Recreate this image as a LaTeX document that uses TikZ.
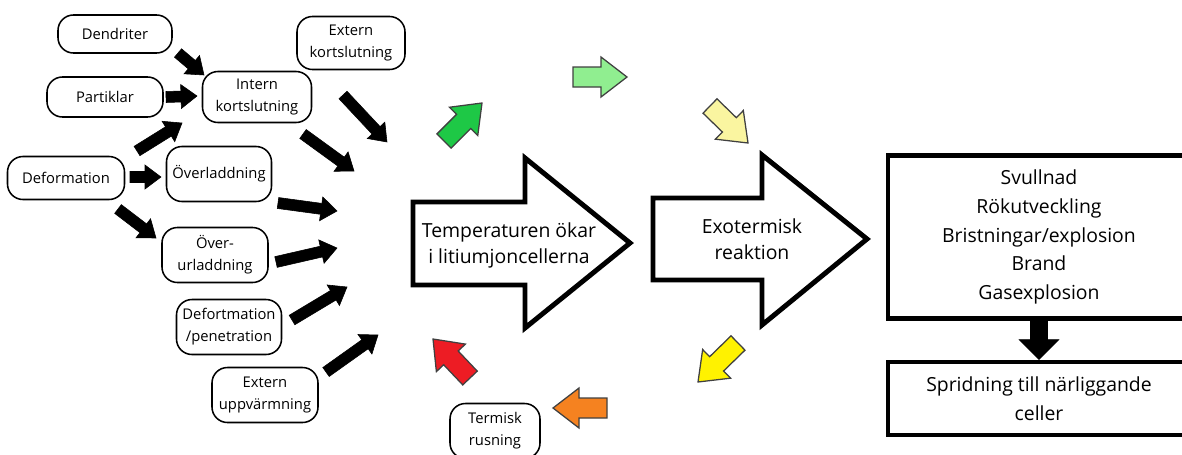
\documentclass[tikz,border=0pt]{standalone}
\usepackage{fontspec}
\setmainfont{Open Sans}
\usetikzlibrary{calc}

\definecolor{darkgreen}{RGB}{30,200,70}
\definecolor{lightgreen}{RGB}{144,238,144}
\definecolor{paleyellow}{RGB}{250,245,160}
\definecolor{brightyellow}{RGB}{255,242,0}
\definecolor{hotorange}{RGB}{245,130,32}
\definecolor{hotred}{RGB}{237,28,36}

\def\px{0.025cm}
% block arrow: style, start, end, half shaft, half head, head length
\newcommand{\fatarrow}[6]{%
  \coordinate (fa-base) at ($(#3)!#6*\px!(#2)$);
  \draw[#1] ($(#2)!#4*\px!90:(#3)$) -- ($(fa-base)!#4*\px!-90:(#2)$)
    -- ($(fa-base)!#5*\px!-90:(#2)$) -- (#3) -- ($(fa-base)!#5*\px!90:(#2)$)
    -- ($(fa-base)!#4*\px!90:(#2)$) -- ($(#2)!#4*\px!-90:(#3)$) -- cycle;
}
\newcommand{\blkarrow}[2]{\fatarrow{fill=black}{#1}{#2}{5.5}{12}{16}}
\newcommand{\colarrow}[3]{\fatarrow{fill=#1, draw=black!75, line width=0.9pt}{#2}{#3}{10}{20}{26}}

\begin{document}
\begin{tikzpicture}[
        x=0.025cm, y=-0.025cm,
        smallbox/.style={rectangle, rounded corners=11pt, draw=black, line width=1.1pt, fill=white, align=center, inner sep=1pt, font=\fontsize{10.5}{15.5}\selectfont},
        bigtext/.style={align=center, inner sep=0pt, font=\fontsize{13.8}{18.5}\selectfont},
        resbox/.style={rectangle, draw=black, line width=3.5pt, fill=white, align=center, minimum width=7.55cm, font=\fontsize{13.8}{20.5}\selectfont},
        bigarrow/.style={draw=black, line width=3.5pt, fill=white},
    ]
        \useasboundingbox (0,0) rectangle (1182,454);

        % Causes
        \node[smallbox, minimum width=114*\px, minimum height=38*\px] (dend) at (115,34) {Dendriter};
        \node[smallbox, minimum width=116*\px, minimum height=40*\px] (part) at (105,97) {Partiklar};
        \node[smallbox, minimum width=109*\px, minimum height=51*\px] (intk) at (257,97) {Intern\\kortslutning};
        \node[smallbox, minimum width=108*\px, minimum height=53*\px] (extk) at (351,43) {Extern\\kortslutning};
        \node[smallbox, minimum width=117*\px, minimum height=43*\px] (defo) at (66,178) {Deformation};
        \node[smallbox, minimum width=105*\px, minimum height=55*\px] (overl) at (219,174) {Överladdning};
        \node[smallbox, minimum width=106*\px, minimum height=55*\px] (overu) at (215,255) {Över-\\urladdning};
        \node[smallbox, minimum width=105*\px, minimum height=55*\px] (pene) at (229,327) {Defortmation\\/penetration};
        \node[smallbox, minimum width=106*\px, minimum height=55*\px] (extu) at (265,395) {Extern\\uppvärmning};
        \node[smallbox, minimum width=90*\px, minimum height=55*\px] (rus) at (495,431) {Termisk\\rusning};

        % Big arrows
        \draw[bigarrow] (413,202) -- (525,202) -- (525,158) -- (630,243) -- (525,328) -- (525,285) -- (413,285) -- cycle;
        \node[bigtext] (temp) at (509,245) {Temperaturen ökar\\i litiumjoncellerna};
        \draw[bigarrow] (653,198) -- (762,198) -- (762,155) -- (867,239) -- (762,325) -- (762,280) -- (653,280) -- cycle;
        \node[bigtext] (exo) at (752,239) {Exotermisk\\reaktion};

        % Consequences
        \node[resbox, minimum height=163*\px] (res) at (1039,237) {Svullnad\\Rökutveckling\\Bristningar/explosion\\Brand\\Gasexplosion};
        \node[resbox, minimum height=73*\px] (spr) at (1039,398.5) {Spridning till närliggande\\celler};
        \fatarrow{fill=black}{res.south}{spr.north}{8.5}{20}{20}

        % Black arrows
        \coordinate (a1s) at (178,53);  \coordinate (a1e) at (204,75);
        \coordinate (a2s) at (166,97);  \coordinate (a2e) at (197,96);
        \coordinate (a3s) at (137,151); \coordinate (a3e) at (182,123);
        \coordinate (a4s) at (130,177); \coordinate (a4e) at (161,177);
        \coordinate (a5s) at (118,209); \coordinate (a5e) at (156,238);
        \coordinate (a6s) at (303,134); \coordinate (a6e) at (354,171);
        \coordinate (a7s) at (343,95);  \coordinate (a7e) at (387,142);
        \coordinate (a8s) at (278,203); \coordinate (a8e) at (337,211);
        \coordinate (a9s) at (276,262); \coordinate (a9e) at (337,248);
        \coordinate (a10s) at (292,320); \coordinate (a10e) at (347,287);
        \coordinate (a11s) at (326,372); \coordinate (a11e) at (378,335);
        \foreach \i in {1,...,11}
            \blkarrow{a\i s}{a\i e};

        % Coloured cycle arrows
        \coordinate (c1s) at (444,141); \coordinate (c1e) at (482,103);
        \coordinate (c2s) at (573,77);  \coordinate (c2e) at (627,77);
        \coordinate (c3s) at (710,106); \coordinate (c3e) at (748,143);
        \coordinate (c4s) at (738,343); \coordinate (c4e) at (698,382);
        \coordinate (c5s) at (607,408); \coordinate (c5e) at (553,408);
        \coordinate (c6s) at (470,378); \coordinate (c6e) at (433,339);
        \colarrow{darkgreen}{c1s}{c1e}
        \colarrow{lightgreen}{c2s}{c2e}
        \colarrow{paleyellow}{c3s}{c3e}
        \colarrow{brightyellow}{c4s}{c4e}
        \colarrow{hotorange}{c5s}{c5e}
        \colarrow{hotred}{c6s}{c6e}
    \end{tikzpicture}
\end{document}
